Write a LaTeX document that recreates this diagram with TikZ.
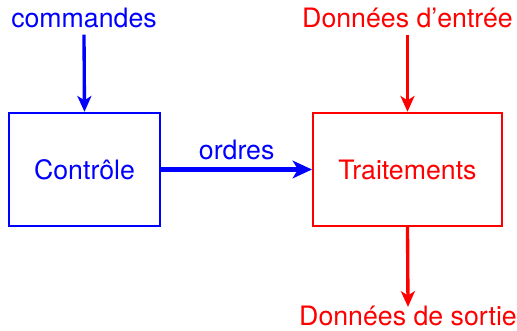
\documentclass[tikz,border=0pt]{standalone}
\usepackage{fontspec}
\setmainfont{TeX Gyre Heros}
\usepackage{tikz}
\usetikzlibrary{arrows.meta}

\begin{document}
\begin{tikzpicture}[
	font=\fontsize{15.2}{18}\selectfont,
	bloc/.style={draw,line width=1.1pt,minimum height=2.27cm,inner sep=0pt},
	fleche/.style={-{Stealth[length=9pt,width=8pt,inset=2.5pt]},line width=1.9pt},
	grosse fleche/.style={-{Stealth[length=11pt,width=10pt,inset=3pt]},line width=2.8pt}]
	\useasboundingbox (0,0) rectangle (10.34,-6.62);

	%partie commande
	\node[bloc,blue,minimum width=3.03cm] (ctrl) at (1.69,-3.39) {Contrôle};
	\node[blue,anchor=base] (cmd) at (1.68,-0.56) {commandes};
	\draw[fleche,blue] (cmd.south) -- (ctrl.north);

	%partie operative
	\node[bloc,red,minimum width=3.78cm] (trait) at (8.15,-3.39) {Traitements};
	\node[red,anchor=base] (entree) at (8.15,-0.56) {Données d’entrée};
	\node[red,anchor=base,inner ysep=2pt] (sortie) at (8.16,-6.50) {Données de sortie};
	\draw[fleche,red] (entree.south) -- (trait.north);
	\draw[fleche,red] (trait.south) -- ([yshift=-3pt]sortie.north);

	%ordres
	\draw[grosse fleche,blue] (ctrl.east) -- node[above=1pt] {ordres} (trait.west);
\end{tikzpicture}
\end{document}
